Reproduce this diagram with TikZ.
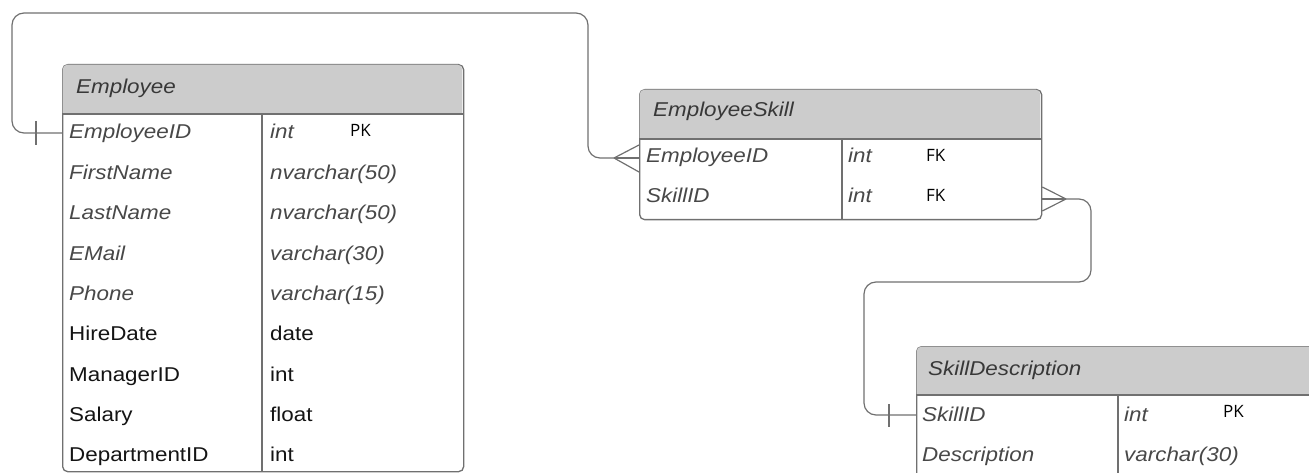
\documentclass[tikz,border=0pt]{standalone}
\usepackage{fontspec}
\setmainfont{Liberation Sans}[FakeStretch=1.12]
\newfontfamily\keyfont{Open Sans}
\usetikzlibrary{positioning}
\definecolor{linegray}{HTML}{707070}
\definecolor{hdrfill}{HTML}{CCCCCC}
\definecolor{ittext}{HTML}{484848}
\definecolor{hdrtext}{HTML}{383838}
\definecolor{plaintext}{HTML}{141414}
\tikzset{
  tblframe/.style={draw=linegray, line width=1.3pt, rounded corners=5pt, fill=white, inner sep=0pt, anchor=north west},
  hdrlbl/.style={anchor=base west, inner sep=0pt, text=hdrtext, font=\fontsize{20}{24}\selectfont\itshape},
  itlbl/.style={anchor=base west, inner sep=0pt, text=ittext, font=\fontsize{20}{24}\selectfont\itshape},
  plainlbl/.style={anchor=base west, inner sep=0pt, text=plaintext, font=\fontsize{20}{24}\selectfont},
  keylbl/.style={anchor=base west, inner sep=0pt, text=black, font=\keyfont\fontsize{17}{20}\selectfont},
  divider/.style={draw=linegray, line width=1.3pt},
  conn/.style={draw=linegray, line width=1.2pt, rounded corners=12pt},
  crow/.style={draw=linegray, line width=1.2pt},
}
\begin{document}
\begin{tikzpicture}[x=1pt,y=-1pt]
\useasboundingbox (0,0) rectangle (1309,473);
\begin{scope}
\clip (0,0) rectangle (1309,473);
% ---------- Employee ----------
\node[tblframe, minimum width=401pt, minimum height=407pt] (emp) at (62,64) {};
\fill[hdrfill] (62.7,114) [rounded corners=4.5pt] -- (62.7,64.7) -- (462.3,64.7) [sharp corners] -- (462.3,114) -- cycle;
\draw[divider] (62,114) -- (463,114);
\draw[divider] (262,114) -- (262,471);
\node[hdrlbl] (empH) at (76,94) {Employee};
\node[itlbl] (e1n) at (69,139) {EmployeeID};
\node[itlbl] (e1t) at (270,139) {int};
\node[keylbl] (e1k) at (350,137) {PK};
\node[itlbl] (e2n) at (69,180) {FirstName};
\node[itlbl] (e2t) at (270,180) {nvarchar(50)};
\node[itlbl] (e3n) at (69,220) {LastName};
\node[itlbl] (e3t) at (270,220) {nvarchar(50)};
\node[itlbl] (e4n) at (69,260) {EMail};
\node[itlbl] (e4t) at (270,260) {varchar(30)};
\node[itlbl] (e5n) at (69,300) {Phone};
\node[itlbl] (e5t) at (270,300) {varchar(15)};
\node[plainlbl] (e6n) at (69,340) {HireDate};
\node[plainlbl] (e6t) at (270,340) {date};
\node[plainlbl] (e7n) at (69,381) {ManagerID};
\node[plainlbl] (e7t) at (270,381) {int};
\node[plainlbl] (e8n) at (69,421) {Salary};
\node[plainlbl] (e8t) at (270,421) {float};
\node[plainlbl] (e9n) at (69,461) {DepartmentID};
\node[plainlbl] (e9t) at (270,461) {int};
% ---------- EmployeeSkill ----------
\node[tblframe, minimum width=402pt, minimum height=130pt] (es) at (639,89) {};
\fill[hdrfill] (639.7,139) [rounded corners=4.5pt] -- (639.7,89.7) -- (1040.3,89.7) [sharp corners] -- (1040.3,139) -- cycle;
\draw[divider] (639,139) -- (1041,139);
\draw[divider] (842,139) -- (842,219);
\node[hdrlbl] (esH) at (653,117) {EmployeeSkill};
\node[itlbl] (s1n) at (646,163) {EmployeeID};
\node[itlbl] (s1t) at (848,163) {int};
\node[keylbl] (s1k) at (926,162) {FK};
\node[itlbl] (s2n) at (646,203) {SkillID};
\node[itlbl] (s2t) at (848,203) {int};
\node[keylbl] (s2k) at (926,202) {FK};
% ---------- SkillDescription ----------
\node[tblframe, minimum width=420pt, minimum height=150pt] (sd) at (916,346) {};
\fill[hdrfill] (916.7,395) [rounded corners=4.5pt] -- (916.7,346.7) -- (1335,346.7) [sharp corners] -- (1335,395) -- cycle;
\draw[divider] (916,395) -- (1336,395);
\draw[divider] (1118,395) -- (1118,496);
\node[hdrlbl] (sdH) at (928,375) {SkillDescription};
\node[itlbl] (d1n) at (922,421) {SkillID};
\node[itlbl] (d1t) at (1124,421) {int};
\node[keylbl] (d1k) at (1223,417) {PK};
\node[itlbl] (d2n) at (922,461) {Description};
\node[itlbl] (d2t) at (1124,461) {varchar(30)};
\end{scope}
% ---------- connector Employee -> EmployeeSkill ----------
\coordinate (empPK) at (emp.west |- 0,133);
\coordinate (esFK1) at (es.west |- 0,158);
\coordinate (tip1) at (614,158);
\draw[conn] (empPK) -- (12,133) -- (12,13) -- (588,13) -- (588,158) -- (tip1);
\draw[crow] (tip1) -- (esFK1);
\draw[crow] (tip1) -- (es.west |- 0,145);
\draw[crow] (tip1) -- (es.west |- 0,172);
\draw[crow] (36,121) -- (36,145);
% ---------- connector EmployeeSkill -> SkillDescription ----------
\coordinate (esFK2) at (es.east |- 0,199);
\coordinate (tip2) at (1066,199);
\coordinate (sdPK) at (sd.west |- 0,415);
\draw[crow] (esFK2) -- (tip2);
\draw[crow] (tip2) -- (es.east |- 0,187);
\draw[crow] (tip2) -- (es.east |- 0,211);
\draw[conn] (tip2) -- (1091,199) -- (1091,282) -- (864,282) -- (864,415) -- (sdPK);
\draw[crow] (889,404) -- (889,427);
\end{tikzpicture}
\end{document}
